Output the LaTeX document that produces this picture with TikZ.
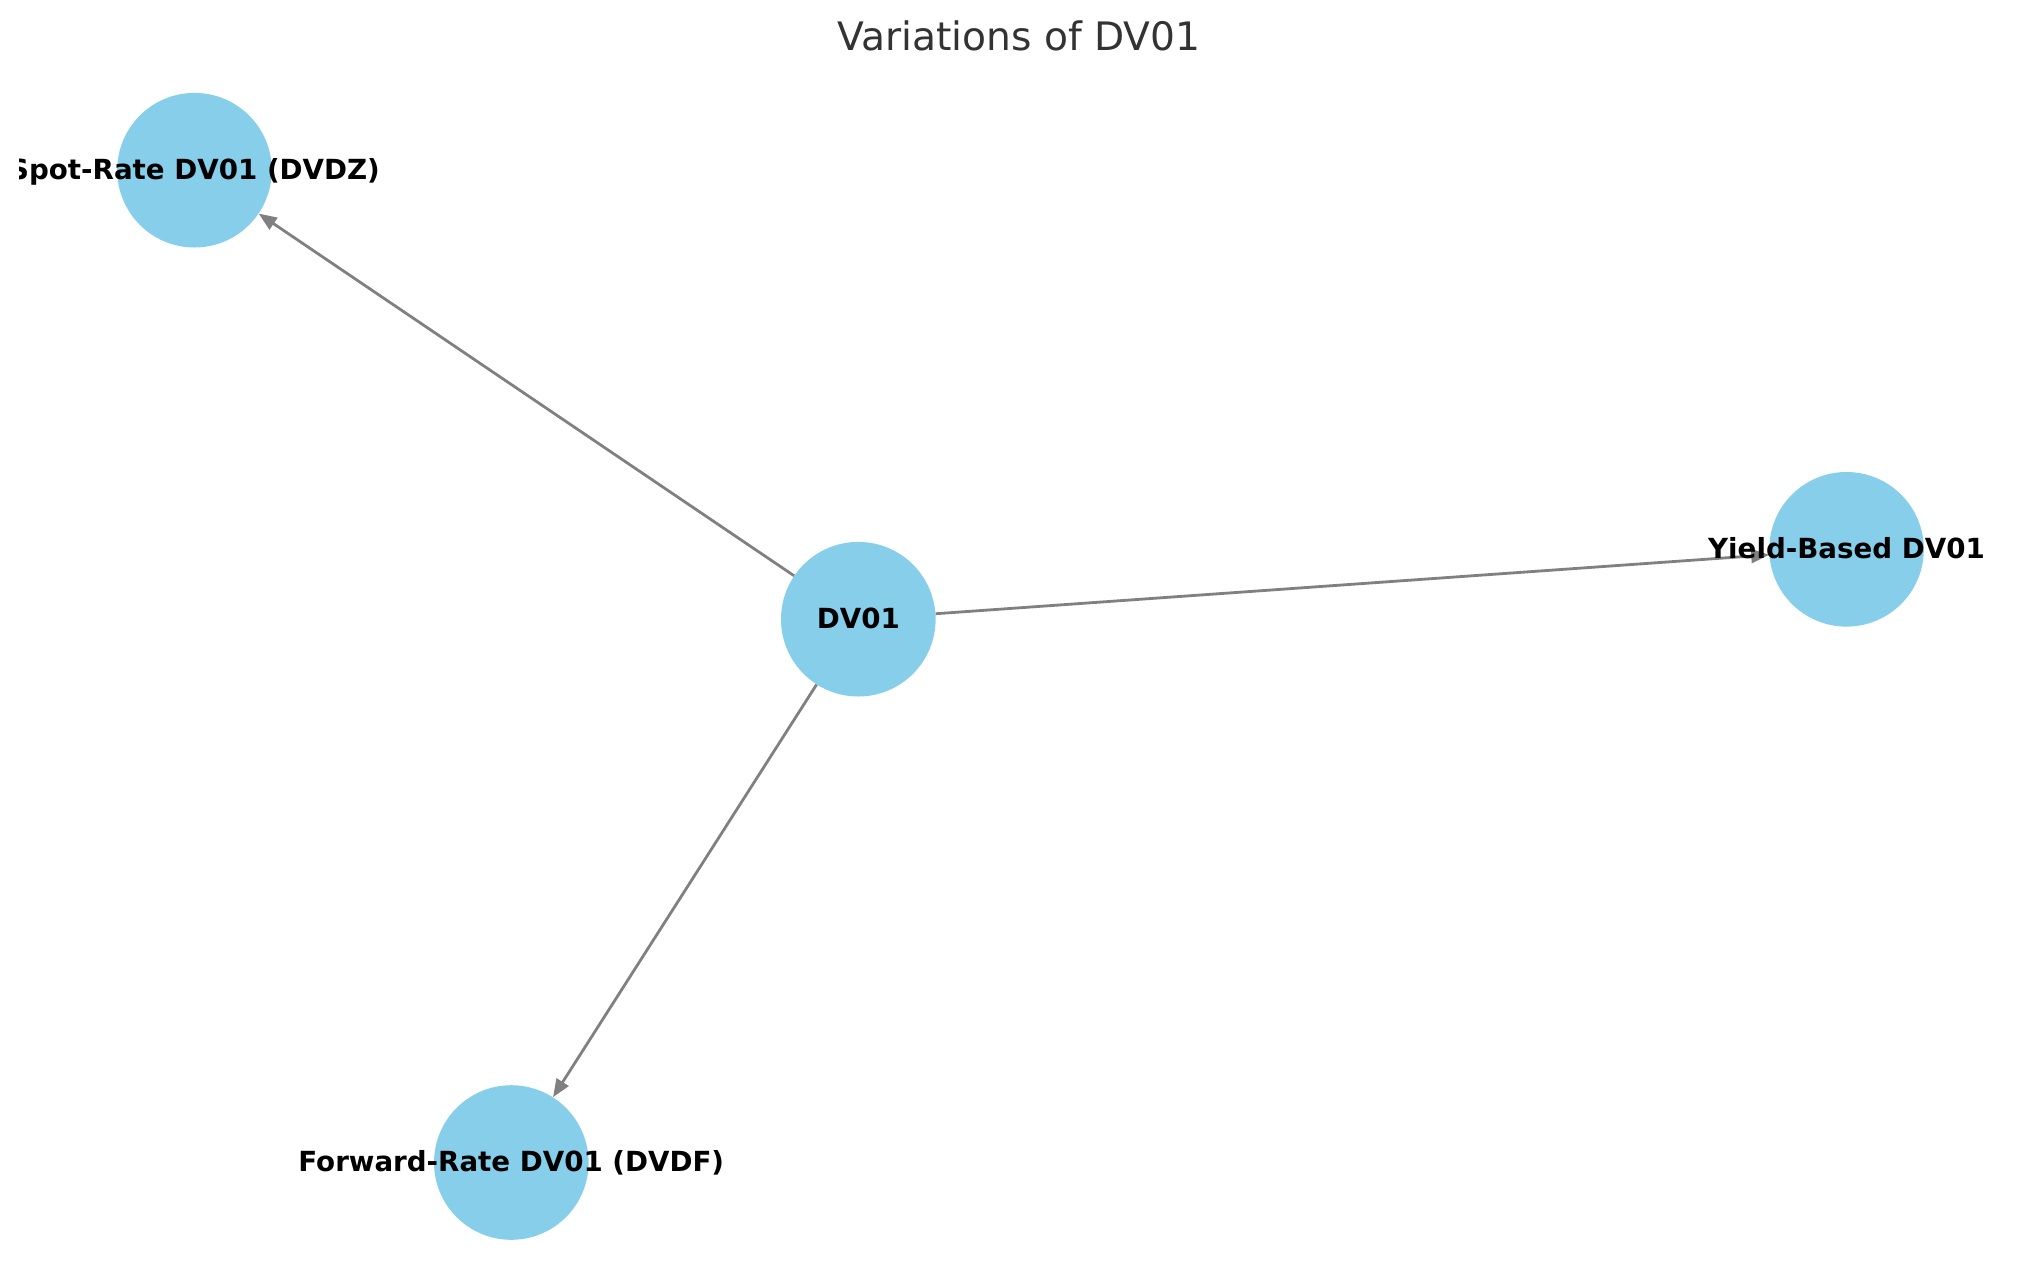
\documentclass[tikz,border=0pt]{standalone}
\usepackage{fontspec}
\setmainfont{DejaVu Sans}
\usetikzlibrary{arrows.meta}
\definecolor{nodeblue}{HTML}{87CEEB}
\definecolor{edgegray}{HTML}{808080}
\definecolor{titlegray}{HTML}{333333}
\tikzset{
  circnode/.style={circle, fill=nodeblue, draw=none, minimum size=154.6pt, inner sep=0pt},
  nodelabel/.style={anchor=base, inner sep=0pt, font=\fontsize{27.7}{33}\selectfont\bfseries, text=black},
  edgearrow/.style={draw=edgegray, line width=2.8pt, -{Triangle[length=18pt, width=14pt]}},
  titletext/.style={anchor=base, inner sep=0pt, font=\fontsize{39.2}{46}\selectfont, text=titlegray}
}
\begin{document}
\begin{tikzpicture}[x=1pt, y=-1pt]
\useasboundingbox (0,0) rectangle (2039,1286);
% nodes
\node[circnode] (spot) at (194.5,170.2) {};
\node[circnode] (dv) at (858.3,619.2) {};
\node[circnode] (yield) at (1846.5,549.3) {};
\node[circnode] (fwd) at (511.3,1162.5) {};
% edges
\draw[edgearrow] (dv) -- (spot);
\draw[edgearrow] (dv) -- (yield);
\draw[edgearrow] (dv) -- (fwd);
% labels
\begin{scope}
\clip (19,0) rectangle (2020,1286);
\node[nodelabel] (spotlbl) at (194.5,179.2) {Spot-Rate DV01 (DVDZ)};
\end{scope}
\node[nodelabel] (dvlbl) at (858.3,628.2) {DV01};
\node[nodelabel] (yieldlbl) at (1846.5,558.3) {Yield-Based DV01};
\node[nodelabel] (fwdlbl) at (511.3,1171.5) {Forward-Rate DV01 (DVDF)};
% title
\node[titletext] (title) at (1019,50.7) {Variations of DV01};
\end{tikzpicture}
\end{document}
